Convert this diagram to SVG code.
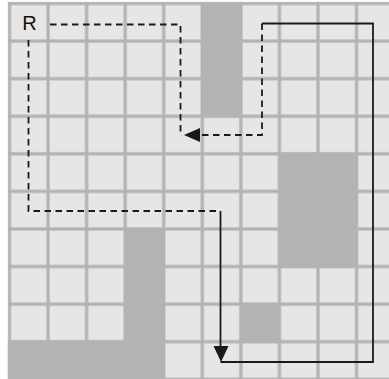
<svg xmlns="http://www.w3.org/2000/svg" width="389" height="379" viewBox="0 0 389 379">
<defs>
<pattern id="cells" patternUnits="userSpaceOnUse" x="9.5" y="3.5" width="38.56" height="37.58">
<rect x="1.65" y="1.65" width="35.26" height="34.28" fill="#e6e6e6"/>
</pattern>
<style>
.obst{fill:#b3b3b3}
.dash{fill:none;stroke:#1a1a1a;stroke-width:1.8;stroke-dasharray:6.5 4.5}
.solid{fill:none;stroke:#1a1a1a;stroke-width:1.8}
.head{fill:#1a1a1a}
.lbl{font-family:"Liberation Sans",Arial,sans-serif;font-size:20px;fill:#111}
</style>
</defs>
<rect width="389" height="379" fill="#ffffff"/>
<g id="grid">
<rect x="7.85" y="1.85" width="381.15" height="377.15" fill="#b3b3b3"/>
<rect x="7.85" y="1.85" width="381.15" height="377.15" fill="url(#cells)"/>
</g>
<g id="obstacles">
<rect class="obst" x="201" y="3" width="41" height="114"/>
<rect class="obst" x="278.5" y="152.5" width="79" height="115"/>
<rect class="obst" x="124" y="228" width="41" height="151"/>
<rect class="obst" x="7.85" y="340.5" width="157" height="38.5"/>
<rect class="obst" x="240" y="303" width="40" height="40"/>
</g>
<g id="R">
<text class="lbl" x="29.5" y="30" text-anchor="middle">R</text>
</g>
<g id="connectors">
<path class="dash" d="M50,24.5 H180.5 V135"/>
<path class="dash" d="M28.5,40 V211 H220.5"/>
<path class="solid" d="M220.5,211 V350"/>
<polygon class="head" points="213.5,346 228.5,346 221,362"/>
<path class="solid" d="M220.5,362 H373 V23.5 H262"/>
<path class="dash" d="M262,23.5 V135 H196"/>
<polygon class="head" points="200,128 200,142 184,135"/>
</g>
</svg>
